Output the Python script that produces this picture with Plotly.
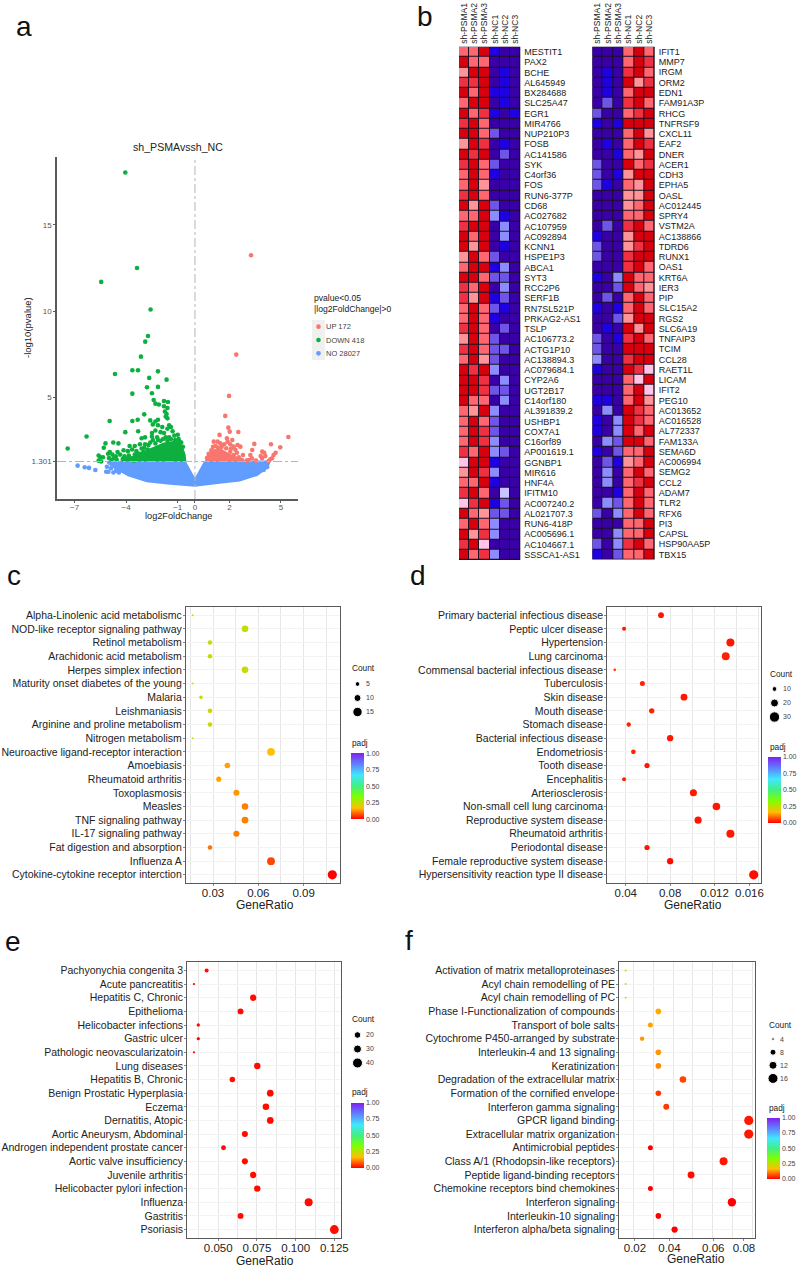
import numpy as np
import plotly.graph_objects as go

W, H = 800, 1268
FONT = "Liberation Sans, Arial, sans-serif"

# ---------- a: volcano ----------
up_pts = [(3.26,13.24),(2.4,7.49),(1.98,5.1),(1.76,3.94),(1.94,3.26),(2.02,3.03),(2.52,3.01),(1.43,2.84),(5.43,2.72),
          (1.86,2.64),(1.09,2.45),(1.32,2.45),(1.9,2.45),(2.17,2.55),(1.47,2.35),(2.48,2.26),(3.45,2.32),(4.42,2.3),
          (4.96,2.12),(2.25,2.16),(2.64,2.16),(3.33,1.97),(3.91,1.87),(4.03,1.81),(4.69,1.81),(4.57,1.68),(3.22,1.68),
          (3.82,1.62),(4.09,1.62),(4.38,1.43),(4.48,1.49),(4.28,1.33),(2.79,1.68),(2.25,1.68),(2.44,1.81),(2.05,1.87),
          (1.82,2.07),(1.67,1.68),(1.96,1.49),(2.34,1.43),(2.73,1.39),(3.31,1.49),(3.9,1.49),(3.12,1.39),(0.8,1.75),
          (0.95,1.95),(1.05,2.15),(1.2,2.2),(1.35,2.1),(1.55,2.15),(1.7,2.3),(2.05,2.3),(2.1,2.05),(2.35,1.98),(0.7,1.5),
          (1.0,1.55),(1.3,1.6),(1.6,1.45),(2.15,1.4),(2.55,1.55),(3.0,1.35),(3.55,1.35)]
down_pts = [(-4.05,18.03),(-3.37,12.5),(-5.45,11.7),(-2.58,10.1),(-2.73,8.57),(-2.89,8.24),(-3.14,7.37),(-3.64,6.58),
            (-3.31,6.58),(-2.15,6.52),(-4.65,6.37),(-2.66,6.14),(-1.65,6.04),(-2.79,5.6),(-2.15,5.62),(-3.64,5.23),
            (-2.5,5.25),(-2.4,4.86),(-2.3,4.65),(-2.1,4.6),(-1.8,4.8),(-1.57,4.75),(-1.8,4.5),(-1.6,4.4),(-1.75,4.2),
            (-1.65,4.05),(-1.7,3.9),(-1.6,3.8),(-2.95,4.03),(-4.96,3.65),(-3.64,3.65),(-3.33,3.72),(-2.6,3.68),(-2.3,3.62),
            (-2.15,3.72),(-2.45,3.45),(-2.15,3.4),(-1.5,3.4),(-2.3,3.1),(-1.9,3.3),(-1.6,3.2),(-1.4,3.3),(-2.0,3.0),
            (-4.05,3.0),(-3.3,3.05),(-2.5,2.95),(-1.8,2.95),(-1.3,3.05),(-6.3,2.75),(-7.4,2.05),(-2.9,2.7),(-3.1,2.65),
            (-2.5,2.75),(-2.2,2.7),(-1.7,2.7),(-1.2,2.8),(-1.0,2.85),(-0.95,2.6),(-1.4,2.6),(-4.45,2.35),(-4.75,2.4),
            (-5.2,2.35),(-5.3,2.1),(-3.8,2.2),(-3.5,2.2),(-3.2,2.3),(-2.9,2.3),(-2.6,2.4),(-2.3,2.35),(-2.0,2.5),(-1.6,2.5),
            (-5.6,1.65),(-5.5,1.55),(-5.35,1.55),(-5.6,1.35),(-5.45,1.3),(-5.0,1.5),(-5.05,1.75),(-4.95,1.85),(-4.8,1.7),
            (-4.7,1.5),(-4.6,1.6),(-4.5,1.85),(-4.35,1.7),(-4.2,1.45),(-4.1,1.6),(-3.95,1.45),(-3.85,1.65),(-3.7,1.4),
            (-3.6,1.5),(-3.5,1.7),(-3.4,1.9),(-3.3,1.5),(-3.2,1.75),(-3.05,1.45),(-3.0,1.85),(-2.85,1.6),(-2.75,2.0),(-2.65,1.5),
            (-4.15,1.95),(-3.9,1.9),(-3.65,2.0),(-3.1,2.05),(-2.95,2.1),(-2.7,2.25),(-2.45,2.55),(-2.15,2.55),(-1.85,2.6),
            (-1.5,2.7),(-1.15,2.55),(-0.9,2.45),(-0.8,2.4),(-0.7,2.15),(-3.55,1.35),(-3.35,1.7),(-4.85,1.4),(-4.55,1.4)]
no_pts = [(-6.82,1.06),(-6.41,.97),(-6.16,.93),(-5.79,.81),(-5.16,.71),(-5.03,.71),(-4.74,.66),(-5.12,1.0),(-4.88,.91),
          (-4.59,.77),(-4.42,.66),(3.41,.91),(3.7,1.0),(3.99,.81),(4.2,.98)]
no_region_x = [-5.1,-4.6,-3.88,-2.8,-1.6,0,1.3,2.6,3.6,4.2,4.35,3.6,0.58,0,-0.58,-5.1]
no_region_y = [1.25,.9,.5,.16,.03,-.1,.05,.2,.52,.95,1.3,1.3,1.28,.25,1.28,1.28]
down_region_x = [-4.2,-4.2,-3.7,-3.2,-2.85,-2.3,-1.8,-1.1,-0.8,-0.6,-0.56]
down_region_y = [1.32,1.5,1.55,1.6,1.9,2.15,2.35,2.45,2.25,1.7,1.32]
up_region_x = [0.65,0.75,1.1,1.5,1.75,2.0,2.5,2.7,2.7]
up_region_y = [1.32,1.7,1.95,2.0,1.85,1.7,1.5,1.38,1.32]
vol_xticks = [-7,-4,-1,0,2,5]
vol_yticks = [1.301,5,10,15]
vol_keys = ["UP 172","DOWN 418","NO 28027"]

# ---------- b: heatmaps (colour level per cell) ----------
samples = ["sh-PSMA1","sh-PSMA2","sh-PSMA3","sh-NC1","sh-NC2","sh-NC3"]
left_genes = ["MESTIT1","PAX2","BCHE","AL645949","BX284688","SLC25A47","EGR1","MIR4766","NUP210P3","FOSB","AC141586","SYK",
 "C4orf36","FOS","RUN6-377P","CD68","AC027682","AC107959","AC092894","KCNN1","HSPE1P3","ABCA1","SYT3","RCC2P6","SERF1B",
 "RN7SL521P","PRKAG2-AS1","TSLP","AC106773.2","ACTG1P10","AC138894.3","AC079684.1","CYP2A6","UGT2B17","C14orf180",
 "AL391839.2","USHBP1","COX7A1","C16orf89","AP001619.1","GGNBP1","MIR616","HNF4A","IFITM10","AC007240.2","AL021707.3",
 "RUN6-418P","AC005696.1","AC104667.1","SSSCA1-AS1"]
left_levels = ["779100","977000","699010","889010","979110","799010","978101","897000","997200","698010","989020","897200",
 "797100","796000","897000","969200","779310","899030","979030","969010","697200","799130","997220","879030","869120",
 "797210","797100","897020","697200","897220","796200","989300","998030","998220","977030","769300","797200","798200",
 "798300","879320","599100","698300","779100","897040","589120","976220","797300","968300","895000","978300"]
right_genes = ["IFIT1","MMP7","IRGM","ORM2","EDN1","FAM91A3P","RHCG","TNFRSF9","CXCL11","EAF2","DNER","ACER1","CDH3","EPHA5",
 "OASL","AC012445","SPRY4","VSTM2A","AC138866","TDRD6","RUNX1","OAS1","KRT6A","IER3","PIP","SLC15A2","RGS2","SLC6A19",
 "TNFAIP3","TCIM","CCL28","RAET1L","LICAM","IFIT2","PEG10","AC013652","AC016528","AL772337","FAM133A","SEMA6D","AC006994",
 "SEMG2","CCL2","ADAM7","TLR2","RFX6","PI3","CAPSL","HSP90AA5P","TBX15"]
right_levels = ["000797","000798","010897","010968","010799","020897","200789","101999","000796","010798","001769","200978",
 "201699","210769","000669","000679","000779","020897","100699","200689","200899","000897","103977","002976","020797",
 "101797","002699","010969","201897","200999","300899","100985","000759","000795","110796","030987","103987","103979",
 "032997","102779","021679","030797","030789","001797","032797","203797","000779","003779","203897","102779"]
heat_colors = ["#3A00A8","#1E00E0","#6E55E8","#8C8CFF","#C8C4FF","#FFC4E8","#FF9498","#FF6670","#EE3040","#D8000C"]

# ---------- c ----------
c_terms = ["Alpha-Linolenic acid metabolismc","NOD-like receptor signaling pathway","Retinol metabolism","Arachidonic acid metabolism",
 "Herpes simplex infection","Maturity onset diabetes of the young","Malaria","Leishmaniasis","Arginine and proline metabolism",
 "Nitrogen metabolism","Neuroactive ligand-receptor interaction","Amoebiasis","Rheumatoid arthritis","Toxoplasmosis","Measles",
 "TNF signaling pathway","IL-17 signaling pathway","Fat digestion and absorption","Influenza A","Cytokine-cytokine receptor interction"]
c_ratio = [.0165,.0512,.028,.028,.0512,.0165,.022,.028,.028,.0165,.0684,.0395,.0338,.0455,.0512,.0512,.0455,.028,.0684,.109]
c_count = [3,9,5,5,9,3,4,5,5,3,12,7,6,8,9,9,8,5,12,19]
c_padj = [.25,.24,.24,.24,.24,.23,.24,.23,.23,.23,.17,.14,.14,.13,.11,.11,.11,.10,.06,.0]
# ---------- d ----------
d_terms = ["Primary bacterial infectious disease","Peptic ulcer disease","Hypertension","Lung carcinoma",
 "Commensal bacterial infectious disease","Tuberculosis","Skin disease","Mouth disease","Stomach disease",
 "Bacterial infectious disease","Endometriosis","Tooth disease","Encephalitis","Arteriosclerosis",
 "Non-small cell lung carcinoma","Reproductive system disease","Rheumatoid arthritis","Periodontal disease",
 "Female reproductive system disease","Hypersensitivity reaction type II disease"]
d_ratio = [.0718,.0385,.1343,.1301,.0301,.055,.0925,.0634,.0427,.08,.0469,.0592,.0385,.101,.1217,.1052,.1343,.0592,.08,.1553]
d_count = [16,9,30,29,7,12,20,14,10,18,11,13,9,22,27,23,30,13,18,35]
d_padj = [.02,.02,.02,.03,.05,.03,.02,.03,.03,.02,.03,.02,.03,.02,.02,.02,.02,.02,.01,.01]
# ---------- e ----------
e_terms = ["Pachyonychia congenita 3","Acute pancreatitis","Hepatitis C, Chronic","Epithelioma","Helicobacter infections",
 "Gastric ulcer","Pathologic neovascularizatoin","Lung diseases","Hepatitis B, Chronic","Benign Prostatic Hyperplasia","Eczema",
 "Dernatitis, Atopic","Aortic Aneurysm, Abdominal","Androgen independent prostate cancer","Aortic valve insufficiency",
 "Juvenile arthritis","Helicobacter pylori infection","Influenza","Gastritis","Psoriasis"]
e_ratio = [.0425,.0343,.0726,.0644,.0371,.0371,.0343,.0752,.0591,.0836,.0808,.0836,.0672,.0534,.0672,.0726,.0752,.1084,.0644,.125]
e_count = [14,11,24,21,12,12,11,25,19,27,26,27,22,17,22,24,25,35,21,40]
e_padj = [.01]*20
# ---------- f ----------
f_terms = ["Activation of matrix metalloproteinases","Acyl chain remodelling of PE","Acyl chain remodelling of PC",
 "Phase I-Functionalization of compounds","Transport of bole salts","Cytochrome P450-arranged by substrate",
 "Interleukin-4 and 13 signaling","Keratinization","Degradation of the extracellular matrix","Formation of the cornified envelope",
 "Interferon gamma signaling","GPCR ligand binding","Extracellular matrix organization","Antimicrobial peptides",
 "Class A/1 (Rhodopsin-like receptors)","Peptide ligand-binding receptors","Chemokine receptors bind chemokines",
 "Interferon signaling","Interleukin-10 signaling","Interferon alpha/beta signaling"]
f_ratio = [.0161,.0161,.0161,.0326,.0286,.0244,.0326,.0326,.045,.0326,.0366,.0782,.0782,.0286,.0655,.0491,.0286,.0697,.0326,.0408]
f_count = [4,4,4,8,7,6,8,8,11,8,9,19,19,7,16,12,7,17,8,10]
f_padj = [.27,.27,.27,.15,.14,.13,.13,.12,.06,.05,.05,.02,.02,.0,.02,.01,.0,.0,.0,.0]

rainbow = [[0,"#FF0000"],[1/6,"#FFBF00"],[1/3,"#80FF00"],[.5,"#40F080"],[2/3,"#40E8FF"],[5/6,"#6080FF"],[1,"#8020F0"]]
GRID, GRID2, LINE = "#E6E6E6", "#F3F3F3", "#5A5A5A"

def xd(a, b): return [a / W, b / W]
def yd(t, b): return [1 - b / H, 1 - t / H]

fig = go.Figure()
layout = dict(width=W, height=H, margin=dict(l=0, r=0, t=0, b=0, autoexpand=False), autosize=False, paper_bgcolor="white",
              plot_bgcolor="white", showlegend=False, font=dict(family=FONT, color="#222"))
annos, shapes = [], []

def text(px, py, s, size, anchor="center", color="#222", angle=0):
    annos.append(dict(x=px / W, y=1 - py / H, xref="paper", yref="paper", text=s, showarrow=False, xanchor=anchor,
                      yanchor="middle", align="left", font=dict(size=size, color=color, family=FONT), textangle=angle))

# volcano
layout["xaxis"] = dict(domain=xd(57, 298), range=[-8.02, 5.99], tickvals=vol_xticks, showgrid=False, zeroline=False,
                       showline=True, linecolor=LINE, linewidth=1.5, ticks="outside", ticklen=2, tickcolor=LINE,
                       tickfont=dict(size=8, color="#555"), anchor="y", ticklabelstandoff=-2)
layout["yaxis"] = dict(domain=yd(157, 499), range=[-0.87, 18.93], tickvals=vol_yticks, ticktext=["1.301","5","10","15"],
                       showgrid=False, zeroline=False, showline=True, linecolor=LINE, linewidth=1.5, ticks="outside",
                       ticklen=2, tickcolor=LINE, tickfont=dict(size=8, color="#555"), anchor="x")
BLUE, GREEN, RED = "#619CFF", "#0DB03F", "#F8766D"
for rx, ry, col in [(no_region_x, no_region_y, BLUE), (down_region_x, down_region_y, GREEN), (up_region_x, up_region_y, RED)]:
    fig.add_trace(go.Scatter(x=rx, y=ry, mode="lines", fill="toself", fillcolor=col, line=dict(color=col, width=2), xaxis="x", yaxis="y"))
for pts, col in [(no_pts, BLUE), (down_pts, GREEN), (up_pts, RED)]:
    fig.add_trace(go.Scatter(x=[p[0] for p in pts], y=[p[1] for p in pts], mode="markers",
                             marker=dict(size=4.6, color=col, opacity=1), xaxis="x", yaxis="y"))
fig.add_trace(go.Scatter(x=[-8.02, 5.99], y=[1.301, 1.301], mode="lines", line=dict(color="#B5B5B5", width=1, dash="dashdot"), xaxis="x", yaxis="y"))
fig.add_trace(go.Scatter(x=[0, 0], y=[-0.87, 18.93], mode="lines", line=dict(color="#B5B5B5", width=1, dash="dashdot"), xaxis="x", yaxis="y"))
text(178, 147, "sh_PSMAvssh_NC", 10.6)
text(28, 328, "-log10(pvalue)", 9.5, angle=-90)
text(178, 516, "log2FoldChange", 9.2)
text(312, 303, "pvalue&lt;0.05<br>|log2FoldChange|&gt;0", 8.6, anchor="left")

# volcano key
layout["xaxis2"] = dict(domain=xd(312, 325), range=[-1, 1], visible=False, anchor="y2")
layout["yaxis2"] = dict(domain=yd(320, 360), type="category", categoryorder="array", categoryarray=vol_keys,
                        range=[2.5, -0.5], side="right", anchor="x2", showgrid=False, zeroline=False, showline=False,
                        ticks="", tickfont=dict(size=7.5, color="#444"), tickmode="array", tickvals=vol_keys)
shapes.append(dict(type="rect", xref="x2 domain", yref="y2 domain", x0=0, x1=1, y0=0, y1=1, fillcolor="#F0F0F0", line=dict(width=0), layer="below"))
fig.add_trace(go.Scatter(x=[0, 0, 0], y=vol_keys, mode="markers", marker=dict(size=4.6, color=[RED, GREEN, BLUE]), xaxis="x2", yaxis="y2"))

# heatmaps
scale = [[i / 9, c] for i, c in enumerate(heat_colors)]
for ax, genes, levels, (l, r), (t, b) in [(3, left_genes, left_levels, (459, 520.3), (46.7, 560)),
                                          (4, right_genes, right_levels, (592.3, 654.7), (46.7, 559.5))]:
    z = [[int(ch) for ch in row] for row in levels]
    layout[f"xaxis{ax}"] = dict(domain=xd(l, r), side="top", tickangle=-90, tickfont=dict(size=8.5, color="#222"),
                                showgrid=False, zeroline=False, ticks="", anchor=f"y{ax}", tickmode="array", tickvals=samples,
                                ticklabelstandoff=2)
    layout[f"yaxis{ax}"] = dict(domain=yd(t, b), side="right", autorange="reversed", tickfont=dict(size=9, color="#222"),
                                showgrid=False, zeroline=False, ticks="", anchor=f"x{ax}", tickmode="array", tickvals=genes,
                                ticklabelstandoff=3)
    shapes.append(dict(type="rect", xref=f"x{ax} domain", yref=f"y{ax} domain", x0=0, x1=1, y0=0, y1=1, fillcolor="#1A1020", line=dict(width=0), layer="below"))
    fig.add_trace(go.Heatmap(z=z, x=samples, y=genes, zmin=0, zmax=9, colorscale=scale, showscale=False, xgap=1, ygap=1,
                             xaxis=f"x{ax}", yaxis=f"y{ax}"))

# dot panels
panels = [
 dict(terms=c_terms, ratio=c_ratio, count=c_count, padj=c_padj, box=(186, 340, 607, 883), xr=(.0121, .1141),
      ticks=[.03, .06, .09], labels=["0.03", "0.06", "0.09"], grid=[.015, .03, .045, .06, .075, .09, .105],
      pc=[3, 4, 5, 7, 9, 12, 19], pp=[2, 3.6, 4.6, 5.6, 6.6, 7.8, 9.2],
      leg=[5, 10, 15], legpx=[4.7, 7, 9.4], legbox=(350, 365, 677, 719), counttitle=(350, 668), bar=(350.7, 753.3, 66), barw=13, padjtitle=(350, 742.7), title=(265, 905), ax=5),
 dict(terms=d_terms, ratio=d_ratio, count=d_count, padj=d_padj, box=(607.3, 760.7, 607, 883), xr=(.0234, .1616),
      ticks=[.04, .08, .12, .1515], labels=["0.04", "0.08", "0.012", "0.016"], grid=[.04, .06, .08, .10, .12, .14, .16],
      pc=[7, 9, 12, 16, 20, 30, 35], pp=[2.6, 4, 5, 5.8, 6.8, 8, 9.2],
      leg=[10, 20, 30], legpx=[4.8, 8, 10.4], legbox=(767, 782, 682, 724), counttitle=(768, 674), bar=(768, 756.7, 66), barw=13, padjtitle=(768, 746.7), title=(693, 905), ax=6),
 dict(terms=e_terms, ratio=e_ratio, count=e_count, padj=e_padj, box=(187.3, 341, 962.3, 1237.7), xr=(.03, .1293),
      ticks=[.05, .075, .1, .125], labels=["0.050", "0.075", "0.100", "0.125"], grid=[.0375, .05, .0625, .075, .0875, .1, .1125, .125],
      pc=[11, 12, 14, 20, 27, 35, 40], pp=[2.3, 3.3, 4, 5.8, 6.7, 8, 8.8],
      leg=[20, 30, 40], legpx=[6.6, 8, 10], legbox=(350, 365, 1028, 1070), counttitle=(350, 1019), bar=(350.7, 1102.7, 65.3), barw=13, padjtitle=(350, 1092), title=(265, 1261), ax=7),
 dict(terms=f_terms, ratio=f_ratio, count=f_count, padj=f_padj, box=(619.3, 754.7, 962.3, 1237.7), xr=(.0129, .0812),
      ticks=[.0208, .0382, .0603, .0758], labels=["0.02", "0.04", "0.06", "0.08"], grid=[.02, .03, .04, .05, .06, .07, .08],
      pc=[4, 6, 7, 8, 11, 16, 19], pp=[2, 4.4, 5, 5.6, 6.6, 8, 9.2],
      leg=[4, 8, 12, 16], legpx=[2.6, 6, 8, 10], legbox=(767, 779, 1032.5, 1085), counttitle=(767, 1024.7), bar=(767, 1117.7, 61), barw=13, padjtitle=(767, 1107.7), title=(696, 1259), ax=8),
]
for p in panels:
    a = p["ax"]; l, r, t, b = p["box"]
    layout[f"xaxis{a}"] = dict(domain=xd(l, r), range=list(p["xr"]), tickmode="array", tickvals=p["ticks"], ticktext=p["labels"],
                               showgrid=False, zeroline=False, showline=True, mirror=True, linecolor=LINE, linewidth=1.2,
                               ticks="outside", ticklen=2, tickcolor="#888", tickfont=dict(size=11.5, color="#222"), anchor=f"y{a}",
                               ticklabelstandoff=-3,
                               minor=dict(tickmode="array", tickvals=p["grid"], showgrid=True, gridcolor=GRID, gridwidth=0.8, ticks=""))
    layout[f"yaxis{a}"] = dict(domain=yd(t, b), type="category", categoryorder="array", categoryarray=p["terms"], range=[19.6, -0.6],
                               tickmode="array", tickvals=p["terms"], showgrid=True, gridcolor=GRID2, gridwidth=1, zeroline=False,
                               showline=True, mirror=True, linecolor=LINE, linewidth=1.2, ticks="outside", ticklen=2, tickcolor="#888",
                               tickfont=dict(size=10.5, color="#222"), anchor=f"x{a}", ticklabelstandoff=-1)
    bx, btop, blen = p["bar"]
    fig.add_trace(go.Scatter(x=p["ratio"], y=p["terms"], mode="markers", xaxis=f"x{a}", yaxis=f"y{a}",
                             marker=dict(size=np.interp(p["count"], p["pc"], p["pp"]).tolist(), color=p["padj"], cmin=0, cmax=1,
                                         colorscale=rainbow, line=dict(width=0), opacity=1,
                                         colorbar=dict(x=bx / W, xanchor="left", xpad=0, y=1 - btop / H, yanchor="top", ypad=0,
                                                       len=blen, lenmode="pixels", thickness=p["barw"], thicknessmode="pixels",
                                                       outlinewidth=0, ticks="", tickmode="array", tickvals=[0, .25, .5, .75, 1],
                                                       ticktext=["0.00", "0.25", "0.50", "0.75", "1.00"],
                                                       tickfont=dict(size=7, color="#444")))))
    text(p["title"][0], p["title"][1], "GeneRatio", 12)
    text(p["counttitle"][0], p["counttitle"][1], "Count", 8.3, anchor="left")
    text(p["padjtitle"][0], p["padjtitle"][1], "padj", 8.3, anchor="left")
    # size key
    k = a + 4
    ll, lr, lt, lb = p["legbox"]
    names = [str(v) for v in p["leg"]]
    layout[f"xaxis{k}"] = dict(domain=xd(ll, lr), range=[-1, 1], visible=False, anchor=f"y{k}")
    layout[f"yaxis{k}"] = dict(domain=yd(lt, lb), type="category", categoryorder="array", categoryarray=names,
                               range=[len(names) - .5, -.5], side="right", anchor=f"x{k}", showgrid=False, zeroline=False,
                               showline=False, ticks="", tickmode="array", tickvals=names, tickfont=dict(size=7, color="#444"))
    fig.add_trace(go.Scatter(x=[0] * len(names), y=names, mode="markers", marker=dict(size=p["legpx"], color="black", opacity=1),
                             xaxis=f"x{k}", yaxis=f"y{k}"))

for px, py, s in [(24, 27, "a"), (425, 16, "b"), (14, 575, "c"), (418, 575, "d"), (13, 941, "e"), (409, 940, "f")]:
    text(px, py, s, 28, color="#111")

layout["annotations"] = annos
layout["shapes"] = shapes
fig.update_layout(**layout)
fig.write_html("out.html", config=dict(displayModeBar=False),
               post_script="document.body.style.margin='0';document.documentElement.style.overflow='hidden';")
